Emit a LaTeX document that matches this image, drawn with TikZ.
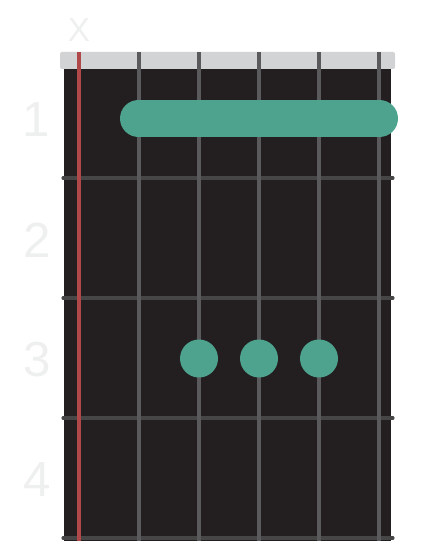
\documentclass[tikz,border=0pt]{standalone}
\usepackage{fontspec}
\setmainfont{Liberation Sans}
\usepackage{tikz}

\definecolor{boardcol}{HTML}{231F20}
\definecolor{nutcol}{HTML}{D1D3D4}
\definecolor{stringcol}{HTML}{5A5A5C}
\definecolor{fretcol}{HTML}{464646}
\definecolor{mutecol}{HTML}{B0484A}
\definecolor{fingercol}{HTML}{4DA38E}
\definecolor{labelcol}{HTML}{EEF0EF}

\tikzset{
  fretnum/.style={text=labelcol, inner sep=0pt, font=\fontsize{37}{37}\selectfont},
  finger/.style={circle, fill=fingercol, inner sep=0pt, minimum size=28.5pt},
}

\begin{document}
\begin{tikzpicture}[x=0.75pt, y=-0.75pt]
  \useasboundingbox (0,0) rectangle (421,541);

  % Nut and board
  \fill[nutcol, rounded corners=1.5pt] (60,52) rectangle (395,69);
  \fill[boardcol] (64,69) rectangle (391,541);

  % Frets
  \draw[fretcol, line width=2.3pt, line cap=round] (63,178) -- (393,178);
  \draw[fretcol, line width=2.3pt, line cap=round] (63,298) -- (393,298);
  \draw[fretcol, line width=2.3pt, line cap=round] (63,418) -- (393,418);
  \draw[fretcol, line width=2.3pt, line cap=round] (63,538) -- (393,538);

  % Strings (the low one is muted)
  \draw[mutecol, line width=2.5pt] (79,52) -- (79,541);
  \draw[stringcol, line width=2.5pt] (139,52) -- (139,541);
  \draw[stringcol, line width=2.5pt] (199,52) -- (199,541);
  \draw[stringcol, line width=2.5pt] (259,52) -- (259,541);
  \draw[stringcol, line width=2.5pt] (319,52) -- (319,541);
  \draw[stringcol, line width=2.5pt] (379,52) -- (379,541);

  % Barre on fret 1
  \coordinate (barreL) at (138.5,118.5);
  \coordinate (barreR) at (379.5,118.5);
  \draw[fingercol, line width=27.75pt, line cap=round] (barreL) -- (barreR);

  % Fingers on fret 3
  \node[finger] (dotA) at (199,358.5) {};
  \node[finger] (dotB) at (259,358.5) {};
  \node[finger] (dotC) at (319,358.5) {};

  % Muted string mark
  \node[text=labelcol, inner sep=0pt, font=\fontsize{25}{25}\selectfont] (mute) at (79,30) {X};

  % Fret numbers
  \node[fretnum] (num1) at (36,120) {1};
  \node[fretnum] (num2) at (37,240) {2};
  \node[fretnum] (num3) at (37,360) {3};
  \node[fretnum] (num4) at (37,480) {4};
\end{tikzpicture}
\end{document}
